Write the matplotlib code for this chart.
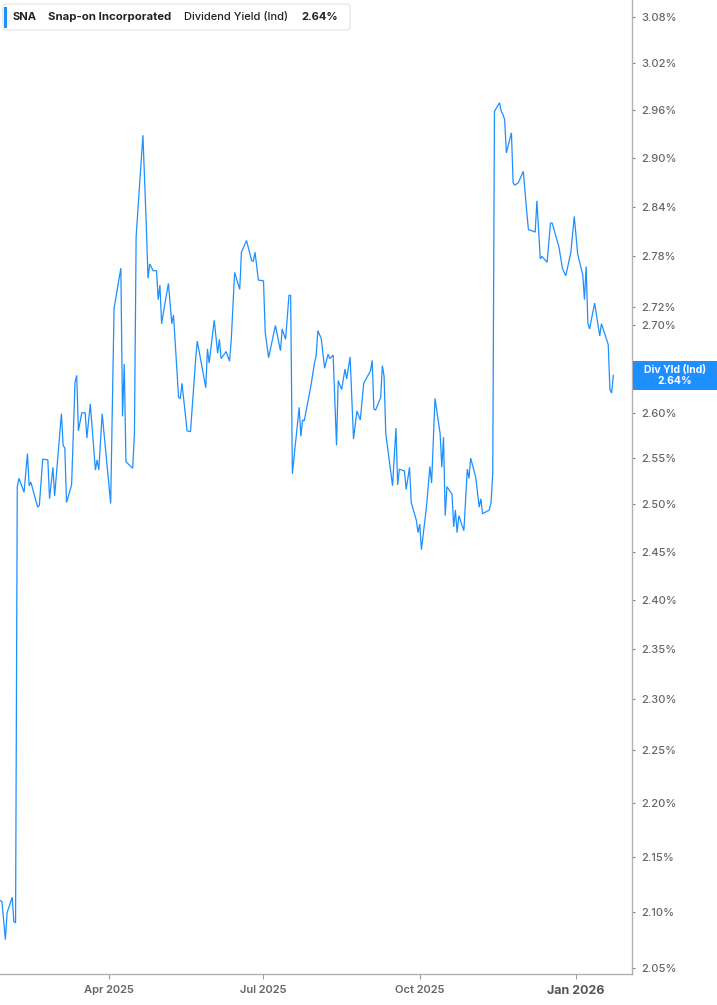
import numpy as np
import pandas as pd
import matplotlib
matplotlib.use("Agg")
import matplotlib.pyplot as plt
import matplotlib.dates as mdates
from matplotlib.patches import Rectangle, FancyBboxPatch
from matplotlib.transforms import IdentityTransform
from matplotlib.ticker import NullLocator

plt.rcParams['font.family'] = ['Inter', 'DejaVu Sans']

# ---------------- data ----------------
base_date = '2025-01-01'
day_offset = [26, 27, 29, 30, 33, 34, 35, 36, 37, 40, 42, 43, 44, 48, 49, 51, 54, 55, 57, 58,
              62, 63, 64, 65, 68, 70, 71, 72, 74, 76, 77, 79, 82, 83, 84, 86, 91, 93, 97, 98,
              99, 100, 104, 105, 106, 110, 112, 113, 114, 116, 118, 119, 120, 121, 123, 125, 127, 128, 131, 132,
              133, 136, 138, 141, 142, 147, 148, 149, 152, 154, 155, 156, 159, 161, 162, 164, 167, 168, 171, 174,
              175, 176, 178, 181, 182, 184, 188, 191, 192, 194, 196, 197, 198, 202, 203, 204, 205, 209, 211, 212,
              213, 215, 217, 219, 220, 222, 224, 225, 227, 229, 230, 232, 234, 236, 238, 240, 244, 245, 246, 247,
              250, 251, 252, 253, 257, 259, 260, 261, 264, 265, 267, 268, 271, 272, 273, 274, 277, 279, 280, 282,
              285, 286, 287, 288, 289, 292, 293, 294, 295, 296, 299, 301, 302, 303, 306, 308, 309, 310, 314, 315,
              316, 317, 320, 321, 322, 323, 324, 327, 328, 329, 331, 334, 336, 337, 340, 341, 342, 344, 345, 348,
              350, 351, 355, 357, 359, 362, 364, 366, 369, 370, 371, 372, 373, 376, 379, 380, 384, 385, 386, 387]
yield_pct = [2.110, 2.109, 2.075, 2.099, 2.113, 2.091, 2.090, 2.519, 2.528, 2.513, 2.555, 2.520, 2.524, 2.497, 2.499, 2.549, 2.548, 2.506, 2.540, 2.509,
             2.599, 2.564, 2.561, 2.502, 2.521, 2.634, 2.642, 2.580, 2.600, 2.600, 2.572, 2.610, 2.537, 2.548, 2.537, 2.599, 2.501, 2.719, 2.766, 2.596,
             2.655, 2.546, 2.539, 2.578, 2.804, 2.928, 2.816, 2.754, 2.771, 2.763, 2.763, 2.729, 2.746, 2.701, 2.725, 2.748, 2.701, 2.711, 2.617, 2.616,
             2.633, 2.580, 2.579, 2.659, 2.681, 2.628, 2.672, 2.656, 2.705, 2.667, 2.683, 2.661, 2.669, 2.658, 2.682, 2.761, 2.741, 2.785, 2.799, 2.775,
             2.774, 2.785, 2.752, 2.751, 2.691, 2.662, 2.699, 2.670, 2.695, 2.683, 2.734, 2.734, 2.533, 2.606, 2.574, 2.592, 2.591, 2.631, 2.656, 2.664,
             2.693, 2.684, 2.650, 2.666, 2.661, 2.665, 2.564, 2.636, 2.626, 2.649, 2.638, 2.663, 2.571, 2.602, 2.592, 2.633, 2.647, 2.659, 2.604, 2.603,
             2.617, 2.653, 2.641, 2.577, 2.520, 2.583, 2.521, 2.538, 2.536, 2.516, 2.540, 2.502, 2.483, 2.470, 2.479, 2.452, 2.498, 2.541, 2.523, 2.616,
             2.577, 2.540, 2.573, 2.488, 2.519, 2.511, 2.476, 2.494, 2.470, 2.488, 2.472, 2.538, 2.528, 2.550, 2.529, 2.497, 2.506, 2.490, 2.494, 2.502,
             2.533, 2.958, 2.969, 2.958, 2.954, 2.948, 2.906, 2.931, 2.869, 2.866, 2.869, 2.883, 2.834, 2.812, 2.810, 2.809, 2.847, 2.777, 2.780, 2.773,
             2.820, 2.820, 2.791, 2.766, 2.757, 2.785, 2.828, 2.783, 2.758, 2.729, 2.768, 2.702, 2.695, 2.725, 2.687, 2.701, 2.677, 2.626, 2.622, 2.642]

ytick_vals = [2.05, 2.10, 2.15, 2.20, 2.25, 2.30, 2.35, 2.40, 2.45, 2.50, 2.55, 2.60, 2.70, 2.72, 2.78, 2.84, 2.90, 2.96, 3.02, 3.08]
ytick_labels = [f"{v:.2f}%" for v in ytick_vals]
xtick_dates = ['2025-04-01', '2025-07-01', '2025-10-01', '2026-01-01']
xtick_labels = ['Apr 2025', 'Jul 2025', 'Oct 2025', 'Jan 2026']

ticker = 'SNA'
company = 'Snap-on Incorporated'
metric = 'Dividend Yield (Ind)'
metric_short = 'Div Yld (Ind)'
last_label = '2.64%'

dates = pd.Timestamp(base_date) + pd.to_timedelta(day_offset, unit='D')

# ---------------- figure ----------------
W, H = 717, 1005
fig = plt.figure(figsize=(W / 100, H / 100), dpi=100)
ax = fig.add_axes([0, 31 / H, 632 / W, 974 / H])

line_color = '#1e8fff'
ax.plot(dates, yield_pct, color=line_color, lw=0.9, solid_joinstyle='miter')

ax.set_yscale('log')
ax.set_ylim(2.0447, 3.1025)
ax.set_xlim(pd.Timestamp('2025-01-26 20:00'), pd.Timestamp('2026-02-03'))

ax.yaxis.tick_right()
ax.set_yticks(ytick_vals)
ax.set_yticklabels(ytick_labels)
ax.yaxis.set_minor_locator(NullLocator())
ax.tick_params(axis='y', which='major', length=2.5, width=0.8, color='#888888',
               pad=4.5, labelsize=8, labelcolor='#666666')
for lab in ax.get_yticklabels():
    lab.set_fontweight('medium')

ax.set_xticks([pd.Timestamp(d) for d in xtick_dates])
ax.set_xticklabels(xtick_labels)
ax.xaxis.set_minor_locator(NullLocator())
ax.tick_params(axis='x', which='major', length=3.6, width=0.8, color='#999999',
               pad=4, labelsize=8, labelcolor='#62666d')
for lab in ax.get_xticklabels():
    if lab.get_text() == 'Jan 2026':
        lab.set_fontweight('bold')
        lab.set_fontsize(9)
        lab.set_color('#555555')
    else:
        lab.set_fontweight('semibold')

for s in ['left', 'top']:
    ax.spines[s].set_visible(False)
for s in ['right', 'bottom']:
    ax.spines[s].set_color('#b0b0b0')
    ax.spines[s].set_linewidth(1.0)

# ---------------- last value tag ----------------
xr = ax.transAxes.transform((1.0, 0.0))[0]
y_last = ax.transData.transform((mdates.date2num(dates[-1]), yield_pct[-1]))[1]
tag = Rectangle((xr + 1, y_last - 14.5), W - xr, 29, transform=IdentityTransform(),
                facecolor=line_color, edgecolor='none', zorder=10)
fig.add_artist(tag)
fig.text((xr + 1 + W) / 2, y_last, f"{metric_short}\n{last_label}", transform=IdentityTransform(),
         ha='center', va='center', color='white', fontsize=7.5, fontweight='bold',
         linespacing=1.05, zorder=11)

# ---------------- header legend ----------------
def top(y):
    return H - y

hdr = FancyBboxPatch((3, top(30)), 347, 26, boxstyle='round,pad=0,rounding_size=3',
                     transform=IdentityTransform(), facecolor='white', edgecolor='#e2e2e2',
                     linewidth=0.8, zorder=5)
fig.add_artist(hdr)
bar = Rectangle((4, top(28)), 3, 21, transform=IdentityTransform(),
                facecolor=line_color, edgecolor='none', zorder=6)
fig.add_artist(bar)
ty = top(16.5)
fig.text(13, ty, ticker, transform=IdentityTransform(), va='center', ha='left',
         fontsize=8, fontweight='bold', color='#222222', zorder=7)
fig.text(48, ty, company, transform=IdentityTransform(), va='center', ha='left',
         fontsize=8.2, fontweight='bold', color='#222222', zorder=7)
fig.text(184, ty, metric, transform=IdentityTransform(), va='center', ha='left',
         fontsize=8, fontweight='medium', color='#222222', zorder=7)
fig.text(301, ty, last_label, transform=IdentityTransform(), va='center', ha='left',
         fontsize=8, fontweight='bold', color='#222222', zorder=7)

fig.savefig('out.png', dpi=100)
